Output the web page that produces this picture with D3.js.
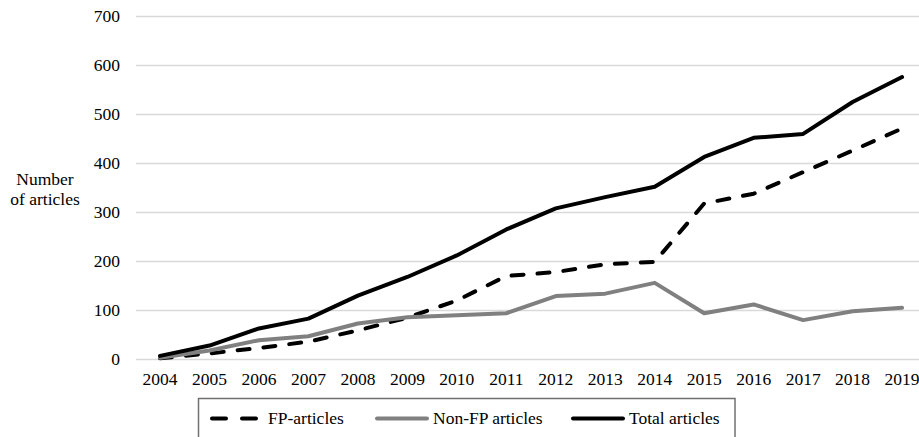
<!DOCTYPE html>
<html>
<head>
<meta charset="utf-8">
<script src="https://cdn.jsdelivr.net/npm/d3@7"></script>
<style>
  body { margin: 0; background: #fff; }
  svg { display: block; font-family: "Liberation Serif", "Times New Roman", serif; }
</style>
</head>
<body>
<div class="canvas"></div>
<script>
const years = ["2004", "2005", "2006", "2007", "2008", "2009", "2010", "2011",
  "2012", "2013", "2014", "2015", "2016", "2017", "2018", "2019"];
const fpArticles = [2, 12, 23, 36, 59, 85, 120, 170, 178, 194, 199, 318, 338, 382, 426, 471];
const nonFpArticles = [3, 18, 39, 47, 73, 86, 90, 94, 129, 134, 156, 94, 112, 80, 98, 105];
const totalArticles = [7, 28, 63, 83, 130, 168, 212, 265, 308, 331, 352, 413, 452, 460, 525, 576];
const yTicks = [0, 100, 200, 300, 400, 500, 600, 700];

const series = [
  { name: "FP-articles", values: fpArticles, color: "#000", dash: "12 14" },
  { name: "Non-FP articles", values: nonFpArticles, color: "#808080", dash: null },
  { name: "Total articles", values: totalArticles, color: "#000", dash: null }
];

const width = 919, height = 437;
const fontSize = "17.5px";
const svg = d3.select(".canvas").append("svg")
  .attr("width", width)
  .attr("height", height);

let xScale = d3.scalePoint().domain(years).range([135.3, 926.8]).padding(0.5);
let yScale = d3.scaleLinear().domain([0, 700]).range([359.3, 16.3]);

// gridlines
svg.append("g")
  .selectAll("line")
  .data(yTicks)
  .join("line")
  .attr("x1", 136)
  .attr("x2", 927)
  .attr("y1", (d) => Math.round(yScale(d)) + 0.5)
  .attr("y2", (d) => Math.round(yScale(d)) + 0.5)
  .attr("stroke", "#d9d9d9")
  .attr("stroke-width", 1.3);

// y tick labels
svg.append("g")
  .selectAll("text")
  .data(yTicks)
  .join("text")
  .attr("x", 120)
  .attr("y", (d) => yScale(d) + 6)
  .attr("text-anchor", "end")
  .style("font-size", fontSize)
  .text((d) => d);

// x tick labels
svg.append("g")
  .selectAll("text")
  .data(years)
  .join("text")
  .attr("x", (d) => xScale(d))
  .attr("y", 385)
  .attr("text-anchor", "middle")
  .style("font-size", fontSize)
  .text((d) => d);

// axis title
let title = svg.append("text")
  .attr("text-anchor", "middle")
  .style("font-size", fontSize);
title.append("tspan").attr("x", 45).attr("y", 185).text("Number");
title.append("tspan").attr("x", 45).attr("y", 205).text("of articles");

// lines
let line = d3.line()
  .x((d, i) => xScale(years[i]))
  .y((d) => yScale(d));

svg.append("g")
  .selectAll("path")
  .data(series)
  .join("path")
  .attr("d", (d) => line(d.values))
  .attr("fill", "none")
  .attr("stroke", (d) => d.color)
  .attr("stroke-width", 4)
  .attr("stroke-linejoin", "round")
  .attr("stroke-linecap", "round")
  .attr("stroke-dasharray", (d) => d.dash);

// legend
let legend = svg.append("g");
legend.append("rect")
  .attr("x", 198.5)
  .attr("y", 398.5)
  .attr("width", 536.5)
  .attr("height", 60)
  .attr("fill", "#fff")
  .attr("stroke", "#707070")
  .attr("stroke-width", 1.5);

let legendX = [212, 377, 573];
let items = legend.selectAll("g.item")
  .data(series)
  .join("g")
  .attr("class", "item")
  .attr("transform", (d, i) => `translate(${legendX[i]},418.5)`);
items.append("line")
  .attr("x1", 0)
  .attr("x2", (d, i) => (i == 0 ? 46 : 50))
  .attr("stroke", (d) => d.color)
  .attr("stroke-width", 4)
  .attr("stroke-linecap", "round")
  .attr("stroke-dasharray", (d) => (d.dash ? "14 16" : null));
items.append("text")
  .attr("x", 56)
  .attr("y", 5.5)
  .style("font-size", fontSize)
  .text((d) => d.name);
</script>
</body>
</html>
